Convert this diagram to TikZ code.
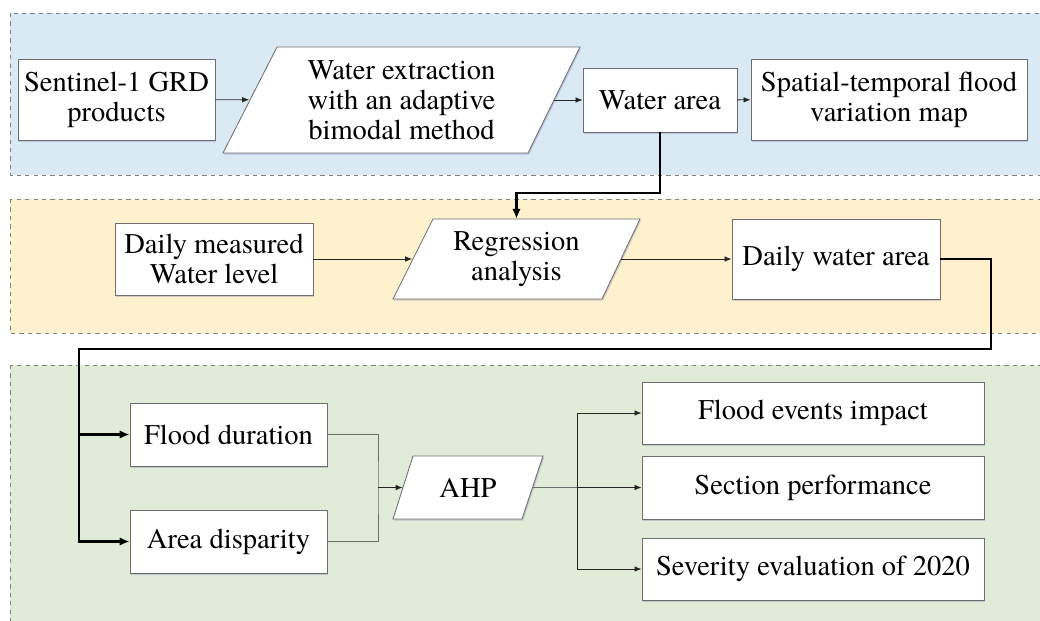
\documentclass[tikz,border=0pt]{standalone}
\usepackage{fontspec}
\IfFontExistsTF{texgyretermes-regular.otf}
	{\setmainfont{texgyretermes-regular.otf}}
	{\setmainfont{Liberation Serif}}
\usetikzlibrary{arrows.meta}
\usetikzlibrary{shadows}

\definecolor{bandblue}{RGB}{218,234,245}
\definecolor{bandorange}{RGB}{255,241,205}
\definecolor{bandgreen}{RGB}{224,235,216}
\definecolor{edge}{RGB}{110,110,110}

\tikzset{
	band/.style={draw=gray, dashed, line width=0.5pt},
	faint/.style={drop shadow={shadow xshift=0.8pt, shadow yshift=-1.2pt, fill=blue!30!gray, opacity=0.25}},
	box/.style={draw=edge, fill=white, line width=0.6pt, align=center, inner sep=0pt, faint},
	txt/.style={align=center, inner sep=0pt},
	para/.style={draw=edge, fill=white, line width=0.6pt, faint},
	link/.style={draw=black!85, line width=0.6pt, -{Latex[length=5pt,width=4pt]}},
	plain/.style={draw=edge, line width=0.6pt},
	bold/.style={draw=black, line width=1.8pt, -{Latex[length=7pt,width=6pt]}}
}

\begin{document}
\begin{tikzpicture}[x=0.025cm, y=-0.025cm, font=\rmfamily\fontsize{20.3}{21.3}\selectfont]
		\useasboundingbox (0,0) rectangle (1040,620);
		%% The Bands
		\draw[band, fill=bandblue] (10,13) rectangle (1050,175);
		\draw[band, fill=bandorange] (10,199) rectangle (1050,333);
		\draw[band, fill=bandgreen] (10,365) rectangle (1050,630);
		%% The Parallelograms
		\draw[para] (277,47) -- (580,47) -- (528,153) -- (223,153) -- cycle;
		\draw[para] (433,219) -- (640,219) -- (602,299) -- (393,299) -- cycle;
		\draw[para] (413,456) -- (543,456) -- (522,519) -- (393,519) -- cycle;
		%% Top band
		\node[box, minimum width=4.925cm, minimum height=2.025cm] (sent) at (116.5,99.5) {Sentinel-1 GRD\\products};
		\node[txt, minimum width=7.6cm, minimum height=2.65cm] (wext) at (401.5,100) {Water extraction\\with an adaptive\\bimodal method};
		\node[box, minimum width=3.85cm, minimum height=1.6cm] (warea) at (660,100) {Water area};
		\node[box, minimum width=6.9cm, minimum height=2.025cm] (stmap) at (889,99.5) {Spatial-temporal flood\\variation map};
		%% Middle band
		\node[box, minimum width=4.95cm, minimum height=1.8cm] (dmwl) at (214,259) {Daily measured\\Water level};
		\node[txt, minimum width=5.2cm, minimum height=2cm] (regr) at (516.5,259) {Regression\\analysis};
		\node[box, minimum width=5.2cm, minimum height=2cm] (dwa) at (836,259) {Daily water area};
		%% Bottom band
		\node[box, minimum width=4.925cm, minimum height=1.575cm] (fdur) at (228.5,434.5) {Flood duration};
		\node[box, minimum width=4.925cm, minimum height=1.575cm] (adis) at (228.5,541.5) {Area disparity};
		\node[txt, minimum width=3.25cm, minimum height=1.575cm] (ahp) at (468,487.5) {AHP};
		\node[box, minimum width=8.55cm, minimum height=1.55cm] (fei) at (813,413) {Flood events impact};
		\node[box, minimum width=8.55cm, minimum height=1.575cm] (secp) at (813,487.5) {Section performance};
		\node[box, minimum width=8.55cm, minimum height=1.55cm] (sev) at (813,569) {Severity evaluation of 2020};
		%% The Bends
		\coordinate (k1) at (0,193);
		\coordinate (rt) at (991,349);
		\coordinate (lt) at (79,349);
		\coordinate (jn) at (378,487.5);
		\coordinate (sp) at (577,487.5);
		%% The Links
		\draw[link] (sent) -- (wext);
		\draw[link] (wext) -- (warea);
		\draw[link] (warea) -- (stmap);
		\draw[bold] (warea.south) |- (regr.north |- k1) -- (regr.north);
		\draw[link] (dmwl) -- (regr);
		\draw[link] (regr) -- (dwa);
		\draw[bold] (dwa.east) -| (rt) -- (lt) |- (fdur.west);
		\draw[bold] (lt) |- (adis.west);
		\draw[plain] (fdur.east) -| (jn) |- (adis.east);
		\draw[link] (jn) -- (ahp.west);
		\draw[plain] (ahp.east) -- (sp);
		\draw[link] (sp) |- (fei.west);
		\draw[link] (sp) -- (secp.west);
		\draw[link] (sp) |- (sev.west);
	\end{tikzpicture}
\end{document}
